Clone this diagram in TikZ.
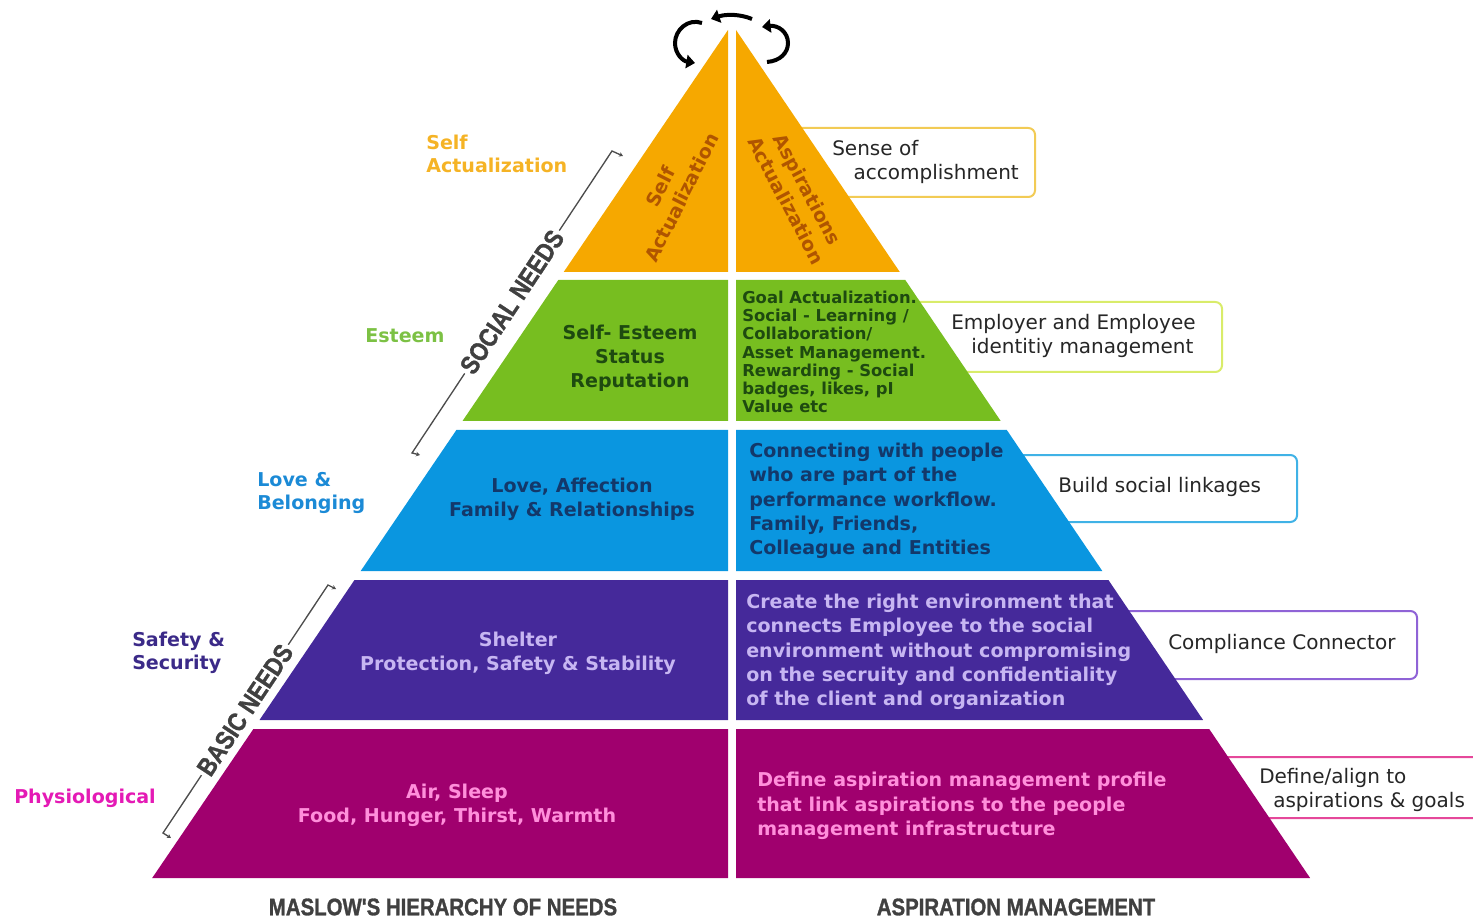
\documentclass[tikz,border=0pt]{standalone}
\usepackage{fontspec}
\setmainfont{DejaVu Sans}
\newfontfamily\capfont[FakeStretch=0.85,FakeBold=1.2]{Liberation Sans}
\usetikzlibrary{arrows.meta}

% band colours
\definecolor{saOrange}{HTML}{F6A800}
\definecolor{estGreen}{HTML}{77BE20}
\definecolor{loveBlue}{HTML}{0A96E0}
\definecolor{safePurple}{HTML}{45299A}
\definecolor{physMagenta}{HTML}{A0006E}
% text inside the bands
\definecolor{saText}{HTML}{B05500}
\definecolor{estText}{HTML}{1E4A10}
\definecolor{loveText}{HTML}{13386A}
\definecolor{safeText}{HTML}{C7B6F2}
\definecolor{physText}{HTML}{FF8FDB}
% level names on the left
\definecolor{saLabel}{HTML}{F5B325}
\definecolor{estLabel}{HTML}{7CC144}
\definecolor{loveLabel}{HTML}{1B8AD6}
\definecolor{safeLabel}{HTML}{3B2A88}
\definecolor{physLabel}{HTML}{E41AB5}
% callout frames
\definecolor{accompLine}{HTML}{F2CB55}
\definecolor{identLine}{HTML}{D9EC6A}
\definecolor{linkLine}{HTML}{40B2E6}
\definecolor{complLine}{HTML}{8F63D6}
\definecolor{alignLine}{HTML}{E5489A}

\tikzset{
  bandtext/.style={font=\bfseries\fontsize{14.3pt}{18pt}\selectfont, align=center, inner sep=0pt},
  sidetext/.style={font=\bfseries\fontsize{14.3pt}{18.2pt}\selectfont, align=left, anchor=west, inner sep=0pt},
  levellabel/.style={font=\bfseries\fontsize{14.3pt}{17.3pt}\selectfont, align=left, anchor=west, inner sep=0pt},
  callout/.style={line width=1.5pt, rounded corners=5pt, fill=white},
  callouttext/.style={font=\fontsize{15pt}{17.6pt}\selectfont, text=black!85, align=left, anchor=west, inner sep=0pt},
  needline/.style={black!70, line width=1pt, {Stealth[length=3pt,width=3.5pt]}-{Stealth[length=3pt,width=3.5pt]}},
  needtext/.style={font=\capfont\bfseries\fontsize{19.5pt}{19.5pt}\selectfont, text=black!75, fill=white, inner sep=2pt},
  turnarrow/.style={line width=3pt, -{Triangle[length=6.5pt,width=10pt]}},
  headline/.style={font=\capfont\bfseries\fontsize{18pt}{18pt}\selectfont, text=black!75}
}

\begin{document}
\begin{tikzpicture}[x=0.75pt,y=-0.75pt]
\useasboundingbox (0,0) rectangle (1473,919);

% callout frames, their left ends go under the pyramid
\draw[callout, draw=accompLine] (770,128) rectangle (1035,197);
\draw[callout, draw=identLine] (850,302) rectangle (1222,372);
\draw[callout, draw=linkLine] (950,455) rectangle (1297,522);
\draw[callout, draw=complLine] (1050,611) rectangle (1417,679);
\draw[callout, draw=alignLine] (1150,757) rectangle (1500,818);

% pyramid, left and right halves
\fill[saOrange] (728,30) -- (563.7,272) -- (728,272) -- cycle;
\fill[saOrange] (736,30) -- (736,272) -- (899.8,272) -- cycle;
\fill[estGreen] (558.3,280) -- (728,280) -- (728,421) -- (462.5,421) -- cycle;
\fill[estGreen] (736,280) -- (905.3,280) -- (1000.7,421) -- (736,421) -- cycle;
\fill[loveBlue] (456.4,430) -- (728,430) -- (728,571) -- (360.7,571) -- cycle;
\fill[loveBlue] (736,430) -- (1006.8,430) -- (1102.3,571) -- (736,571) -- cycle;
\fill[safePurple] (354.5,580) -- (728,580) -- (728,720) -- (259.5,720) -- cycle;
\fill[safePurple] (736,580) -- (1108.4,580) -- (1203.1,720) -- (736,720) -- cycle;
\fill[physMagenta] (253.4,729) -- (728,729) -- (728,878) -- (152.2,878) -- cycle;
\fill[physMagenta] (736,729) -- (1209.2,729) -- (1310.1,878) -- (736,878) -- cycle;

% turning arrows on the tip
\draw[turnarrow] (702,23) .. controls (688,18) and (675,30) .. (675,43) .. controls (675,54) and (683,61) .. (695,63);
\draw[turnarrow] (752,19) .. controls (740,14) and (726,14) .. (711,19);
\draw[turnarrow] (767,62) .. controls (780,61) and (788,53) .. (788,43) .. controls (788,32) and (778,25) .. (762,27);

% text in the bands
\node[bandtext, text=saText, rotate=63] (saLeftTxt) at (671,192) {Self\\Actualization};
\node[bandtext, text=saText, rotate=-62] (saRightTxt) at (797,195) {Aspirations\\Actualization};
\node[bandtext, text=estText] (estLeftTxt) at (630,358) {Self- Esteem\\Status\\Reputation};
\node[sidetext, text=estText, font=\bfseries\fontsize{12.3pt}{13.7pt}\selectfont] (estRightTxt) at (742,352)
  {Goal Actualization.\\Social - Learning /\\Collaboration/\\Asset Management.\\Rewarding - Social\\badges, likes, pI\\Value etc};
\node[bandtext, text=loveText] (loveLeftTxt) at (572,499) {Love, Affection\\Family \& Relationships};
\node[sidetext, text=loveText] (loveRightTxt) at (749,501)
  {Connecting with people\\who are part of the\\performance workflow.\\Family, Friends,\\Colleague and Entities};
\node[bandtext, text=safeText] (safeLeftTxt) at (518,653) {Shelter\\Protection, Safety \& Stability};
\node[sidetext, text=safeText] (safeRightTxt) at (746,652)
  {Create the right environment that\\connects Employee to the social\\environment without compromising\\on the secruity and confidentiality\\of the client and organization};
\node[bandtext, text=physText] (physLeftTxt) at (457,805) {Air, Sleep\\Food, Hunger, Thirst, Warmth};
\node[sidetext, text=physText] (physRightTxt) at (757,806)
  {Define aspiration management profile\\that link aspirations to the people\\management infrastructure};

% callout texts
\node[callouttext] (accompTxt) at (832,162) {Sense of\\\hspace*{16pt}accomplishment};
\node[callouttext] (identTxt) at (951,336) {Employer and Employee\\\hspace*{15pt}identitiy management};
\node[callouttext] (linkTxt) at (1058,487) {Build social linkages};
\node[callouttext] (complTxt) at (1168,644) {Compliance Connector};
\node[callouttext] (alignTxt) at (1259,790) {Define/align to\\\hspace*{10.5pt}aspirations \& goals};

% level names
\node[levellabel, text=saLabel] (saLbl) at (426,154) {Self\\Actualization};
\node[levellabel, text=estLabel] (estLbl) at (365,336) {Esteem};
\node[levellabel, text=loveLabel] (loveLbl) at (257,493) {Love \&\\Belonging};
\node[levellabel, text=safeLabel] (safeLbl) at (132,653) {Safety \&\\Security};
\node[levellabel, text=physLabel] (physLbl) at (14,798) {Physiological};

% need groups along the left edge
\draw[needline] (420,455) -- (412,453) -- (612,151) -- (623,156);
\node[needtext, rotate=56.5] (socialTxt) at (512,302) {SOCIAL NEEDS};
\draw[needline] (171,838) -- (163,833) -- (328,585) -- (336,589);
\node[needtext, rotate=56.4] (basicTxt) at (245,710) {BASIC NEEDS};

% titles
\node[headline] (maslowTitle) at (443,907) {MASLOW'S HIERARCHY OF NEEDS};
\node[headline] (aspTitle) at (1016,907) {ASPIRATION MANAGEMENT};

\end{tikzpicture}
\end{document}
